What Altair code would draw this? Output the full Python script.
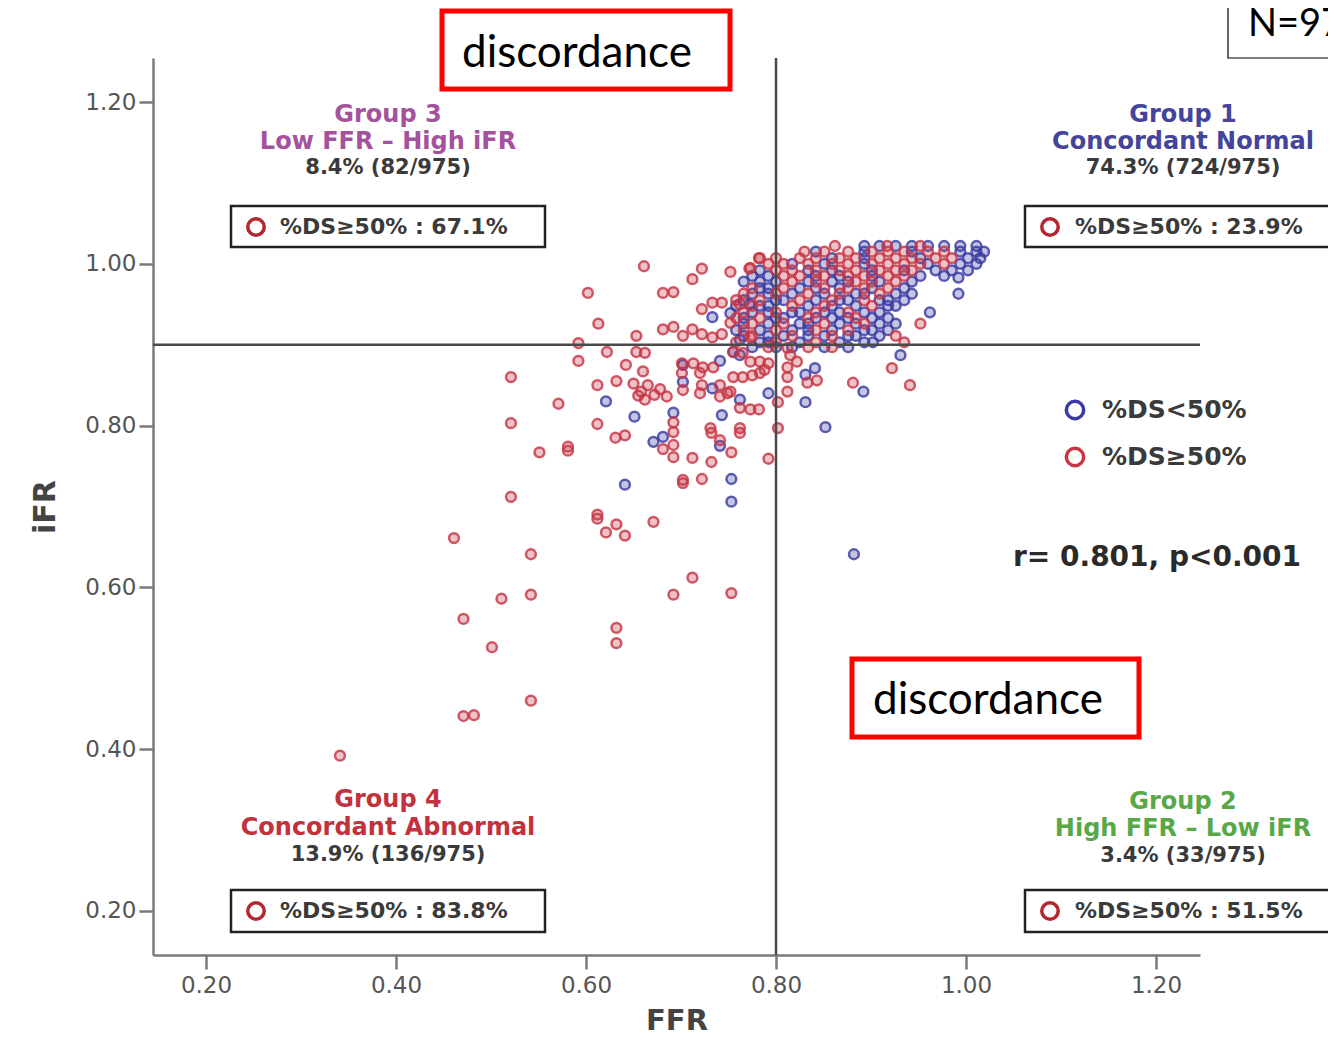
import altair as alt
import pandas as pd

# ---------------- values ----------------
tick_vals = [0.20, 0.40, 0.60, 0.80, 1.00, 1.20]
x_domain = [0.1442, 1.2463]
y_domain = [0.1456, 1.2544]
ffr_cut = 0.80
ifr_cut = 0.90

# %DS >= 50% (red), sparse points (FFR, iFR)
red_pts = [
    (0.341, 0.392), (0.471, 0.441), (0.482, 0.442), (0.542, 0.460), (0.501, 0.526),
    (0.471, 0.561), (0.632, 0.550), (0.632, 0.531), (0.511, 0.586), (0.542, 0.591),
    (0.692, 0.591), (0.712, 0.612), (0.753, 0.593), (0.461, 0.661), (0.542, 0.641),
    (0.521, 0.712), (0.612, 0.690), (0.612, 0.685), (0.632, 0.678), (0.621, 0.668),
    (0.641, 0.664), (0.671, 0.681), (0.521, 0.803), (0.612, 0.802), (0.631, 0.785),
    (0.641, 0.788), (0.681, 0.771), (0.692, 0.776), (0.692, 0.761), (0.712, 0.760),
    (0.732, 0.791), (0.741, 0.782), (0.753, 0.767), (0.762, 0.791), (0.732, 0.755),
    (0.792, 0.759), (0.551, 0.767), (0.581, 0.774), (0.581, 0.769), (0.702, 0.733),
    (0.702, 0.729), (0.722, 0.734), (0.692, 0.804), (0.692, 0.792), (0.571, 0.827),
    (0.521, 0.860), (0.592, 0.880), (0.642, 0.875), (0.660, 0.867), (0.612, 0.850),
    (0.632, 0.855), (0.650, 0.852), (0.658, 0.842), (0.665, 0.850), (0.672, 0.838),
    (0.678, 0.845), (0.662, 0.832), (0.685, 0.836), (0.655, 0.837), (0.702, 0.844),
    (0.722, 0.850), (0.720, 0.840), (0.741, 0.850), (0.749, 0.840), (0.762, 0.822),
    (0.773, 0.820), (0.782, 0.820), (0.802, 0.829), (0.802, 0.797), (0.731, 0.797),
    (0.762, 0.797), (0.622, 0.891), (0.653, 0.891), (0.662, 0.890), (0.592, 0.902),
    (0.701, 0.877), (0.713, 0.877), (0.723, 0.872), (0.734, 0.872), (0.701, 0.865),
    (0.720, 0.865), (0.755, 0.891), (0.765, 0.890), (0.773, 0.879), (0.783, 0.879),
    (0.792, 0.877), (0.755, 0.860), (0.765, 0.860), (0.775, 0.862), (0.783, 0.865),
    (0.788, 0.869), (0.752, 0.842), (0.741, 0.836), (0.812, 0.896), (0.815, 0.887),
    (0.822, 0.879), (0.812, 0.872), (0.812, 0.860), (0.833, 0.853), (0.843, 0.856),
    (0.812, 0.842), (0.881, 0.853), (0.922, 0.871), (0.941, 0.850),
    (0.661, 0.997), (0.602, 0.964), (0.613, 0.926), (0.653, 0.911), (0.681, 0.964),
    (0.692, 0.965), (0.712, 0.981), (0.722, 0.994), (0.752, 0.990), (0.772, 0.994),
    (0.782, 1.007), (0.722, 0.944), (0.733, 0.952), (0.743, 0.952), (0.762, 0.950),
    (0.752, 0.927), (0.681, 0.919), (0.692, 0.922), (0.702, 0.911), (0.712, 0.919),
    (0.722, 0.913), (0.733, 0.909), (0.743, 0.913), (0.773, 0.909), (0.773, 0.995),
]

# %DS < 50% (blue), sparse points (FFR, iFR)
blue_pts = [
    (0.882, 0.641), (0.753, 0.706), (0.753, 0.734), (0.641, 0.727), (0.741, 0.775),
    (0.671, 0.780), (0.681, 0.786), (0.651, 0.811), (0.692, 0.816), (0.621, 0.830),
    (0.702, 0.854), (0.733, 0.846), (0.762, 0.832), (0.792, 0.840), (0.743, 0.813),
    (0.702, 0.875), (0.741, 0.880), (0.762, 0.887), (0.755, 0.891), (0.733, 0.934),
    (0.752, 0.939), (0.772, 0.950), (0.762, 0.906), (0.841, 0.871), (0.831, 0.863),
    (0.831, 0.829), (0.852, 0.798), (0.892, 0.842), (0.931, 0.887), (0.992, 0.983),
]

# dense cluster, read row by row: (iFR, [FFR values])
red_rows = [
    (1.022, [0.862, 0.917, 0.952]),
    (1.015, [0.830, 0.851, 0.876, 0.901, 0.918, 0.935, 0.960, 0.977]),
    (1.007, [0.783, 0.800, 0.825, 0.842, 0.867, 0.884, 0.909, 0.926, 0.943, 0.968, 0.985]),
    (1.000, [0.792, 0.808, 0.834, 0.859, 0.876, 0.901, 0.918, 0.935, 0.952, 0.977]),
    (0.992, [0.800, 0.817, 0.842, 0.867, 0.884, 0.909, 0.926, 0.943]),
    (0.985, [0.808, 0.825, 0.851, 0.876, 0.893, 0.918, 0.935]),
    (0.978, [0.817, 0.842, 0.884, 0.901, 0.926]),
    (0.970, [0.775, 0.808, 0.851, 0.876, 0.893, 0.918]),
    (0.963, [0.766, 0.800, 0.834, 0.867, 0.909]),
    (0.955, [0.758, 0.783, 0.825, 0.859, 0.893]),
    (0.948, [0.775, 0.817, 0.851, 0.901]),
    (0.940, [0.766, 0.800, 0.842, 0.876]),
    (0.933, [0.758, 0.783, 0.834, 0.884]),
    (0.926, [0.775, 0.808, 0.851, 0.893, 0.952]),
    (0.918, [0.766, 0.800, 0.842, 0.876]),
    (0.911, [0.775, 0.817, 0.859, 0.926]),
    (0.903, [0.758, 0.800, 0.842, 0.935]),
    (0.897, [0.792, 0.834, 0.859]),
]
blue_rows = [
    (1.022, [0.893, 0.909, 0.926, 0.943, 0.960, 0.977, 0.994, 1.011]),
    (1.015, [0.842, 0.893, 0.943, 0.994, 1.011, 1.019]),
    (1.007, [0.859, 0.893, 0.952, 1.002, 1.015]),
    (1.000, [0.817, 0.851, 0.893, 0.960, 0.994, 1.011]),
    (0.992, [0.783, 0.834, 0.859, 0.901, 0.935, 0.968, 0.985, 1.002]),
    (0.985, [0.775, 0.792, 0.842, 0.867, 0.901, 0.952, 0.977]),
    (0.978, [0.766, 0.783, 0.800, 0.834, 0.859, 0.876, 0.909, 0.943]),
    (0.970, [0.783, 0.792, 0.825, 0.842, 0.867, 0.901, 0.935]),
    (0.963, [0.775, 0.792, 0.817, 0.851, 0.884, 0.893, 0.926, 0.943, 0.992]),
    (0.955, [0.766, 0.800, 0.808, 0.842, 0.867, 0.876, 0.909, 0.918, 0.935]),
    (0.948, [0.758, 0.783, 0.792, 0.834, 0.859, 0.884, 0.918, 0.926]),
    (0.940, [0.775, 0.792, 0.817, 0.825, 0.851, 0.867, 0.893, 0.909, 0.962]),
    (0.933, [0.766, 0.800, 0.808, 0.842, 0.859, 0.876, 0.901, 0.918]),
    (0.926, [0.766, 0.792, 0.825, 0.834, 0.867, 0.884, 0.909, 0.926]),
    (0.918, [0.758, 0.783, 0.817, 0.834, 0.859, 0.893, 0.901, 0.918]),
    (0.911, [0.766, 0.792, 0.808, 0.834, 0.851, 0.876, 0.884, 0.909]),
    (0.903, [0.783, 0.792, 0.825, 0.867, 0.893, 0.902]),
    (0.897, [0.775, 0.800, 0.817, 0.851, 0.876]),
]

# ---------------- table ----------------
rows = []
for f, i in blue_pts:
    rows.append({"FFR": f, "iFR": i, "DS": "%DS<50%", "z": 0})
for i, fs in blue_rows:
    for f in fs:
        rows.append({"FFR": f, "iFR": i, "DS": "%DS<50%", "z": 0})
for f, i in red_pts:
    rows.append({"FFR": f, "iFR": i, "DS": "%DS≥50%", "z": 1})
for i, fs in red_rows:
    for f in fs:
        rows.append({"FFR": f, "iFR": i, "DS": "%DS≥50%", "z": 1})
df = pd.DataFrame(rows)

W, H = 1047, 897
OX, OY = 153, 58  # page position of the plot origin
one = pd.DataFrame({"a": [0]})

BLUE = "#3a3aa2"
RED = "#c63644"
ds_scale = alt.Scale(domain=["%DS<50%", "%DS≥50%"], range=[BLUE, RED])

pts = alt.Chart(df).mark_point(filled=True, size=96, strokeWidth=2.5, fillOpacity=0.3,
                               strokeOpacity=0.82).encode(
    x=alt.X("FFR:Q", scale=alt.Scale(domain=x_domain, nice=False, zero=False),
            axis=alt.Axis(values=tick_vals, format=".2f", title="FFR", labelPadding=5,
                          titleFontSize=29, titleY=74, titleBaseline="alphabetic")),
    y=alt.Y("iFR:Q", scale=alt.Scale(domain=y_domain, nice=False, zero=False),
            axis=alt.Axis(values=tick_vals, format=".2f", title="iFR", labelPadding=3,
                          titlePadding=24, titleFontSize=30)),
    fill=alt.Fill("DS:N", scale=ds_scale, legend=None),
    stroke=alt.Stroke("DS:N", scale=ds_scale, legend=None),
    order=alt.Order("z:Q"),
)

vline = alt.Chart(one).mark_rule(color="#4a4a4a", strokeWidth=2.5).encode(x=alt.datum(ffr_cut))
hline = alt.Chart(one).mark_rule(color="#4a4a4a", strokeWidth=2.5).encode(y=alt.datum(ifr_cut))


def text(s, x, y, size, color="#333333", align="center", font="DejaVu Sans",
         weight="bold", baseline="middle"):
    return alt.Chart(one).mark_text(text=s, font=font, fontSize=size, fontWeight=weight,
                                    color=color, align=align, baseline=baseline).encode(
        x=alt.value(x - OX), y=alt.value(y - OY))


def box(x1, y1, x2, y2, stroke, sw, fill="white"):
    return alt.Chart(one).mark_rect(fill=fill, stroke=stroke, strokeWidth=sw).encode(
        x=alt.value(x1 - OX), x2=alt.value(x2 - OX), y=alt.value(y1 - OY), y2=alt.value(y2 - OY))


def ring(x, y, color, size=270, sw=3.5):
    return alt.Chart(one).mark_point(shape="circle", filled=False, color=color, size=size,
                                     strokeWidth=sw, opacity=1).encode(
        x=alt.value(x - OX), y=alt.value(y - OY))


C3 = "#a4529e"
C1 = "#44449a"
C4 = "#c2323e"
C2 = "#58a848"
RING = "#b42630"
STAT = "#3a3a3a"

annots = [
    # Group 3
    text("Group 3", 388, 115, 24, C3),
    text("Low FFR – High iFR", 388, 142, 24, C3),
    text("8.4% (82/975)", 388, 168, 21, STAT),
    box(231, 206, 545, 247, "#222222", 2.5),
    ring(256, 227, RING),
    text("%DS≥50% : 67.1%", 280, 227, 22, STAT, align="left"),
    # Group 1
    text("Group 1", 1183, 115, 24, C1),
    text("Concordant Normal", 1183, 142, 24, C1),
    text("74.3% (724/975)", 1183, 168, 21, STAT),
    box(1025, 206, 1360, 247, "#222222", 2.5),
    ring(1050, 227, RING),
    text("%DS≥50% : 23.9%", 1075, 227, 22, STAT, align="left"),
    # Group 4
    text("Group 4", 388, 800, 24, C4),
    text("Concordant Abnormal", 388, 828, 24, C4),
    text("13.9% (136/975)", 388, 855, 21, STAT),
    box(231, 890, 545, 932, "#222222", 2.5),
    ring(256, 911, RING),
    text("%DS≥50% : 83.8%", 280, 911, 22, STAT, align="left"),
    # Group 2
    text("Group 2", 1183, 802, 24, C2),
    text("High FFR – Low iFR", 1183, 829, 24, C2),
    text("3.4% (33/975)", 1183, 856, 21, STAT),
    box(1025, 890, 1360, 932, "#222222", 2.5),
    ring(1050, 911, RING),
    text("%DS≥50% : 51.5%", 1075, 911, 22, STAT, align="left"),
    # legend
    ring(1075, 410, BLUE, size=300),
    text("%DS<50%", 1102, 410, 25, STAT, align="left"),
    ring(1075, 457, RED, size=300),
    text("%DS≥50%", 1102, 457, 25, STAT, align="left"),
    # correlation
    text("r= 0.801, p<0.001", 1013, 558, 28, "#2a2a2a", align="left"),
    # discordance boxes
    box(442, 11, 730, 89, "#ff0000", 5),
    text("discordance", 462, 67, 44, "#000000", align="left", font="Lato",
         weight="normal", baseline="alphabetic"),
    box(852, 659, 1139, 737, "#ff0000", 5),
    text("discordance", 873, 714, 44, "#000000", align="left", font="Lato",
         weight="normal", baseline="alphabetic"),
    # N box (cut at the right edge, as in the original)
    box(1228, -10, 1400, 58, "#000000", 1.2),
    text("N=975", 1248, 36, 38, "#000000", align="left", font="Lato",
         weight="normal", baseline="alphabetic"),
]

chart = alt.layer(pts, vline, hline, *annots).properties(
    width=W, height=H,
    autosize=alt.AutoSizeParams(type="none"),
    padding={"left": 145, "top": 50, "right": 128, "bottom": 82},
).configure_view(stroke=None).configure_axis(
    grid=False, domainColor="#7a7a7a", domainWidth=2.5, tickColor="#7a7a7a", tickWidth=2.5,
    tickSize=14, labelFont="DejaVu Sans", labelFontSize=23, labelColor="#555555",
    titleFont="DejaVu Sans", titleFontWeight="bold", titleColor="#444444",
)

chart.save("out.html", embed_options={"renderer": "svg", "actions": False})
